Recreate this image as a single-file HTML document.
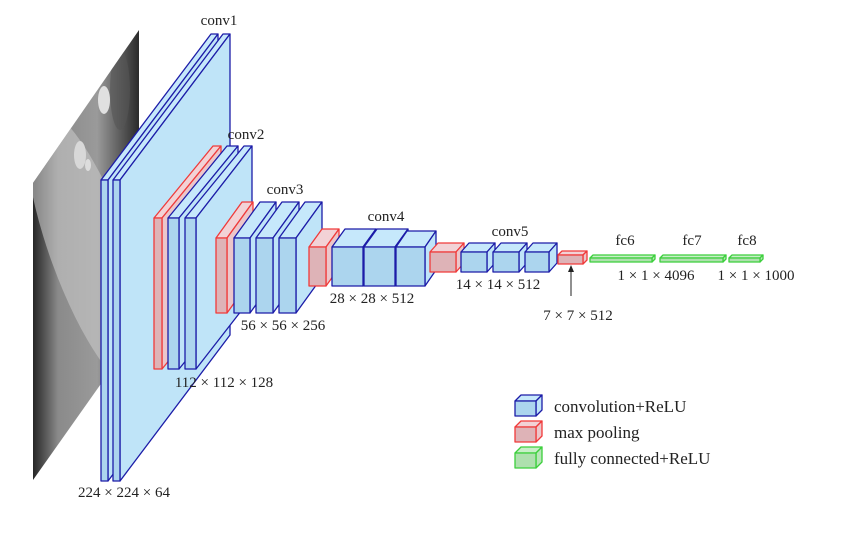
<!DOCTYPE html>
<html><head><meta charset="utf-8"><style>
html,body{margin:0;padding:0;background:#fff}
svg{display:block}
text{font-family:"Liberation Serif",serif;fill:#222}
.b .t{fill:#c6e8fb}.b .s{fill:#bfe4f8}.b .f{fill:#acd5ee}
.b polygon,.b rect{stroke:#1c1ca8;stroke-width:1.3;stroke-linejoin:round}
.r .t{fill:#f2d2d6}.r .s{fill:#ecc6ca}.r .f{fill:#deb3b7}
.r polygon,.r rect{stroke:#f03a3a;stroke-width:1.3;stroke-linejoin:round}
.g .t{fill:#c8efc8}.g .s{fill:#b8e6b8}.g .f{fill:#aee0ae}
.g polygon,.g rect{stroke:#3ccf3c;stroke-width:1.3;stroke-linejoin:round}
</style></head><body>
<svg width="850" height="539" viewBox="0 0 850 539" xmlns="http://www.w3.org/2000/svg">
<defs>
<clipPath id="ic"><polygon points="33,183 139,30 139,330 33,480"/></clipPath>
<linearGradient id="ig" x1="0" y1="0" x2="1" y2="0">
<stop offset="0" stop-color="#1a1a1a"/><stop offset="0.25" stop-color="#8a8a8a"/><stop offset="0.6" stop-color="#9a9a9a"/><stop offset="1" stop-color="#222"/></linearGradient>
</defs>
<g clip-path="url(#ic)">
<rect x="30" y="28" width="112" height="455" fill="url(#ig)"/>
<ellipse cx="90" cy="250" rx="40" ry="150" fill="#c8c8c8" opacity="0.6" transform="rotate(-20 90 250)"/>
<ellipse cx="104" cy="100" rx="6" ry="14" fill="#e0e0e0"/>
<ellipse cx="80" cy="155" rx="6" ry="14" fill="#d8d8d8"/>
<ellipse cx="88" cy="165" rx="3" ry="6" fill="#ddd"/>
<ellipse cx="120" cy="90" rx="10" ry="40" fill="#555" opacity="0.6"/>
</g>
<!-- conv1 -->
<g class="b">
<polygon class="t" points="101,180 211,34 218,34 108,180"/><polygon class="s" points="108,180 218,34 218,335 108,481"/><rect class="f" x="101" y="180" width="7" height="301"/>
<polygon class="t" points="113,180 223,34 230,34 120,180"/><polygon class="s" points="120,180 230,34 230,335 120,481"/><rect class="f" x="113" y="180" width="7" height="301"/>
</g>
<!-- conv2 -->
<g class="r"><polygon class="t" points="154,218 213,146 221,146 162,218"/><polygon class="s" points="162,218 221,146 221,297 162,369"/><rect class="f" x="154" y="218" width="8" height="151"/></g>
<g class="b">
<polygon class="t" points="168,218 227,146 238,146 179,218"/><polygon class="s" points="179,218 238,146 238,297 179,369"/><rect class="f" x="168" y="218" width="11" height="151"/>
<polygon class="t" points="185,218 244,146 252,146 196,218"/><polygon class="s" points="196,218 252,146 252,297 196,369"/><rect class="f" x="185" y="218" width="11" height="151"/>
</g>
<!-- conv3 -->
<g class="r"><polygon class="t" points="216,238 242,202 253,202 227,238"/><polygon class="s" points="227,238 253,202 253,277 227,313"/><rect class="f" x="216" y="238" width="11" height="75"/></g>
<g class="b">
<polygon class="t" points="234,238 260,202 276,202 250,238"/><polygon class="s" points="250,238 276,202 276,277 250,313"/><rect class="f" x="234" y="238" width="16" height="75"/>
<polygon class="t" points="256,238 282,202 299,202 273,238"/><polygon class="s" points="273,238 299,202 299,277 273,313"/><rect class="f" x="256" y="238" width="17" height="75"/>
<polygon class="t" points="279,238 305,202 322,202 296,238"/><polygon class="s" points="296,238 322,202 322,277 296,313"/><rect class="f" x="279" y="238" width="17" height="75"/>
</g>
<!-- conv4 -->
<g class="r"><polygon class="t" points="309,247 322,229 339,229 326,247"/><polygon class="s" points="326,247 339,229 339,268 326,286"/><rect class="f" x="309" y="247" width="17" height="39"/></g>
<g class="b">
<polygon class="t" points="332,247 345,229 376,229 363,247"/><polygon class="s" points="363,247 376,229 376,268 363,286"/><rect class="f" x="332" y="247" width="31" height="39"/>
<polygon class="t" points="364,247 377,229 408,229 395,247"/><polygon class="s" points="395,247 408,229 408,268 395,286"/><rect class="f" x="364" y="247" width="31" height="39"/>
<polygon class="t" points="396,247 407,231 436,231 425,247"/><polygon class="s" points="425,247 436,231 436,270 425,286"/><rect class="f" x="396" y="247" width="29" height="39"/>
</g>
<!-- pool4 / conv5 -->
<g class="r"><polygon class="t" points="430,252 438,243 464,243 456,252"/><polygon class="s" points="456,252 464,243 464,263 456,272"/><rect class="f" x="430" y="252" width="26" height="20"/></g>
<g class="b">
<polygon class="t" points="461,252 469,243 495,243 487,252"/><polygon class="s" points="487,252 495,243 495,263 487,272"/><rect class="f" x="461" y="252" width="26" height="20"/>
<polygon class="t" points="493,252 501,243 527,243 519,252"/><polygon class="s" points="519,252 527,243 527,263 519,272"/><rect class="f" x="493" y="252" width="26" height="20"/>
<polygon class="t" points="525,252 533,243 557,243 549,252"/><polygon class="s" points="549,252 557,243 557,263 549,272"/><rect class="f" x="525" y="252" width="24" height="20"/>
</g>
<g class="r"><polygon class="t" points="558,255 562,251 587,251 583,255"/><polygon class="s" points="583,255 587,251 587,260 583,264"/><rect class="f" x="558" y="255" width="25" height="9"/></g>
<g class="g">
<polygon class="t" points="590,258 593,255 655,255 652,258"/><polygon class="s" points="652,258 655,255 655,259 652,262"/><rect class="f" x="590" y="258" width="62" height="4"/>
<polygon class="t" points="660,258 663,255 726,255 723,258"/><polygon class="s" points="723,258 726,255 726,259 723,262"/><rect class="f" x="660" y="258" width="63" height="4"/>
<polygon class="t" points="729,258 732,255 763,255 760,258"/><polygon class="s" points="760,258 763,255 763,259 760,262"/><rect class="f" x="729" y="258" width="31" height="4"/>
</g>
<!-- arrow -->
<line x1="571" y1="296" x2="571" y2="270" stroke="#222" stroke-width="1"/>
<polygon points="571,265 568,272 574,272" fill="#222"/>
<!-- labels -->
<g font-size="15" text-anchor="middle">
<text x="219" y="25">conv1</text>
<text x="246" y="139">conv2</text>
<text x="285" y="194">conv3</text>
<text x="386" y="221">conv4</text>
<text x="510" y="236">conv5</text>
<text x="625" y="245">fc6</text>
<text x="692" y="245">fc7</text>
<text x="747" y="245">fc8</text>
<text x="124" y="497">224 × 224 × 64</text>
<text x="224" y="387">112 × 112 × 128</text>
<text x="283" y="330">56 × 56 × 256</text>
<text x="372" y="303">28 × 28 × 512</text>
<text x="498" y="289">14 × 14 × 512</text>
<text x="578" y="320">7 × 7 × 512</text>
<text x="656" y="280">1 × 1 × 4096</text>
<text x="756" y="280">1 × 1 × 1000</text>
</g>
<!-- legend -->
<g class="b"><polygon class="t" points="515,401 521,395 542,395 536,401"/><polygon class="s" points="536,401 542,395 542,410 536,416"/><rect class="f" x="515" y="401" width="21" height="15"/></g>
<g class="r"><polygon class="t" points="515,427 521,421 542,421 536,427"/><polygon class="s" points="536,427 542,421 542,436 536,442"/><rect class="f" x="515" y="427" width="21" height="15"/></g>
<g class="g"><polygon class="t" points="515,453 521,447 542,447 536,453"/><polygon class="s" points="536,453 542,447 542,462 536,468"/><rect class="f" x="515" y="453" width="21" height="15"/></g>
<g font-size="17">
<text x="554" y="412">convolution+ReLU</text>
<text x="554" y="438">max pooling</text>
<text x="554" y="464">fully connected+ReLU</text>
</g>
</svg>
</body></html>
